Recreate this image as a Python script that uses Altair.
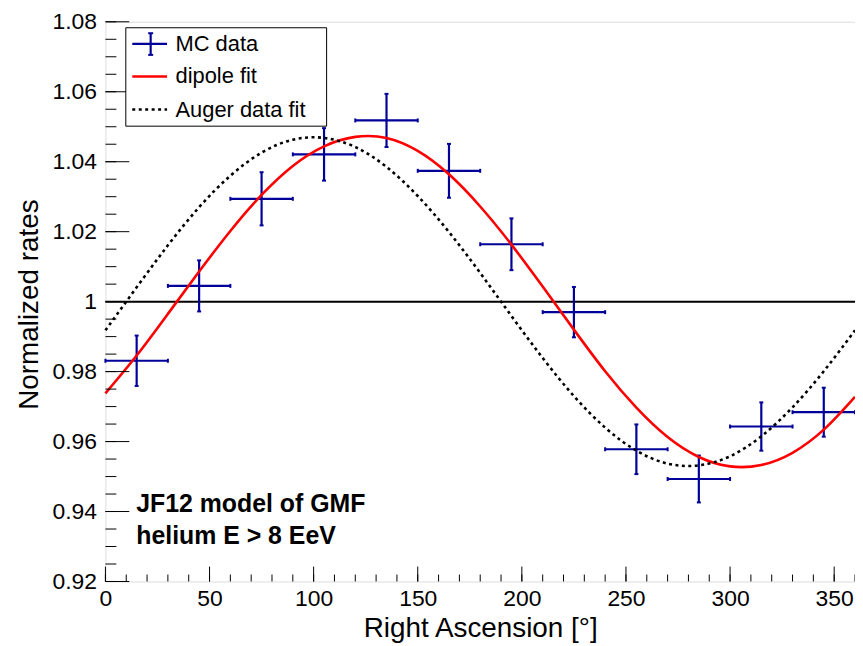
import altair as alt
import pandas as pd

# ---------------- data ----------------
ra_bins = [15, 45, 75, 105, 135, 165, 195, 225, 255, 285, 315, 345]
ra_half_width = [15, 15, 15, 15, 15, 15, 15, 15, 15, 15, 15, 15]
mc_rate = [0.9831, 1.0045, 1.0294, 1.0421, 1.0518, 1.0374,
           1.0164, 0.9970, 0.9578, 0.9493, 0.9643, 0.9684]
mc_err = [0.0072, 0.0073, 0.0076, 0.0075, 0.0076, 0.0077,
          0.0074, 0.0072, 0.0071, 0.0067, 0.0069, 0.0070]

curve_ra = [0, 15, 30, 45, 60, 75, 90, 105, 120, 135, 150, 165, 180,
            195, 210, 225, 240, 255, 270, 285, 300, 315, 330, 345, 360]
dipole_fit = [0.9738, 0.9846, 0.9965, 1.0086, 1.0202, 1.0305, 1.0388, 1.0444,
              1.0471, 1.0468, 1.0431, 1.0364, 1.0272, 1.0163, 1.0043, 0.9920,
              0.9801, 0.9697, 0.9613, 0.9556, 0.9529, 0.9533, 0.9568, 0.9634,
              0.9728]
auger_fit = [0.9918, 1.0041, 1.0161, 1.0270, 1.0360, 1.0426, 1.0463, 1.0468,
             1.0442, 1.0385, 1.0302, 1.0199, 1.0082, 0.9959, 0.9839, 0.9730,
             0.9640, 0.9574, 0.9537, 0.9532, 0.9558, 0.9615, 0.9698, 0.9801,
             0.9918]

reference_level = [1.0]

x_major = [0, 50, 100, 150, 200, 250, 300, 350]
x_minor = [0, 10, 20, 30, 40, 50, 60, 70, 80, 90, 100, 110, 120, 130, 140, 150,
           160, 170, 180, 190, 200, 210, 220, 230, 240, 250, 260, 270, 280,
           290, 300, 310, 320, 330, 340, 350, 360]
y_major = [0.92, 0.94, 0.96, 0.98, 1.00, 1.02, 1.04, 1.06, 1.08]
y_minor = [0.92, 0.925, 0.93, 0.935, 0.94, 0.945, 0.95, 0.955, 0.96, 0.965,
           0.97, 0.975, 0.98, 0.985, 0.99, 0.995, 1.0, 1.005, 1.01, 1.015,
           1.02, 1.025, 1.03, 1.035, 1.04, 1.045, 1.05, 1.055, 1.06, 1.065,
           1.07, 1.075, 1.08]

legend_labels = ["MC data", "dipole fit", "Auger data fit"]
annotation_lines = ["JF12 model of GMF", "helium E > 8 EeV"]
x_title = "Right Ascension [°]"
y_title = "Normalized rates"

# ---------------- styling ----------------
W, H = 754, 563
FONT = "Liberation Sans"
BLUE = "#000099"
RED = "#ff0000"

xs = alt.Scale(domain=[0, 360], nice=False, zero=False)
ys = alt.Scale(domain=[0.92, 1.08], nice=False, zero=False)

x_axis = alt.Axis(values=x_major, title=x_title, ticks=False, domain=False,
                  grid=False, labelFontSize=23, labelPadding=6, labelFlush=False,
                  labelOverlap=False, labelColor="black", labelFont=FONT,
                  titleFont=FONT, titleFontSize=28, titleFontWeight="normal",
                  titleColor="black", titleY=55, titleBaseline="alphabetic")
y_axis = alt.Axis(values=y_major, title=y_title, ticks=False, domain=False,
                  grid=False, labelFontSize=23, labelPadding=9, labelFlush=False,
                  labelOverlap=False, labelColor="black", labelFont=FONT,
                  labelExpr="format(datum.value, '.2~f')",
                  titleFont=FONT, titleFontSize=28, titleFontWeight="normal",
                  titleColor="black", titleX=-68, titleY=284, titleAngle=270,
                  titleBaseline="alphabetic")


def X(field):
    return alt.X(field, type="quantitative", scale=xs, axis=x_axis)


def Y(field):
    return alt.Y(field, type="quantitative", scale=ys, axis=y_axis)


df = pd.DataFrame({"ra": ra_bins, "hw": ra_half_width,
                   "rate": mc_rate, "err": mc_err})
df["lo"] = df["ra"] - df["hw"]
df["hi"] = df["ra"] + df["hw"]
df["ylo"] = df["rate"] - df["err"]
df["yhi"] = df["rate"] + df["err"]

dfc = pd.DataFrame({"ra": curve_ra, "dipole": dipole_fit, "auger": auger_fit})
one = pd.DataFrame({"k": [0]})

layers = []

# reference line at 1
layers.append(alt.Chart(pd.DataFrame({"level": reference_level}))
              .mark_rule(color="black", strokeWidth=2)
              .encode(y=Y("level")))

# MC data error crosses
layers.append(alt.Chart(df).mark_rule(color=BLUE, strokeWidth=2.2)
              .encode(x=X("lo"), x2="hi", y=Y("rate")))
layers.append(alt.Chart(df).mark_rule(color=BLUE, strokeWidth=2.2)
              .encode(x=X("ra"), y=Y("ylo"), y2="yhi"))
for f in ["ylo", "yhi"]:
    layers.append(alt.Chart(df).mark_tick(orient="horizontal", size=4,
                                          thickness=2, color=BLUE, opacity=1)
                  .encode(x=X("ra"), y=Y(f)))
for f in ["lo", "hi"]:
    layers.append(alt.Chart(df).mark_tick(orient="vertical", size=4,
                                          thickness=2, color=BLUE, opacity=1)
                  .encode(x=X(f), y=Y("rate")))

# fits
layers.append(alt.Chart(dfc).mark_line(color=RED, strokeWidth=2.6,
                                       interpolate="natural")
              .encode(x=X("ra"), y=Y("dipole")))
layers.append(alt.Chart(dfc).mark_line(color="black", strokeWidth=2.6,
                                       strokeDash=[3, 3.5],
                                       interpolate="natural")
              .encode(x=X("ra"), y=Y("auger")))

# inward ticks (ROOT style)
layers.append(alt.Chart(pd.DataFrame({"v": x_minor}))
              .mark_rule(color="black", strokeWidth=1)
              .encode(x=X("v"), y=alt.value(H), y2=alt.value(H - 7)))
layers.append(alt.Chart(pd.DataFrame({"v": x_major}))
              .mark_rule(color="black", strokeWidth=1)
              .encode(x=X("v"), y=alt.value(H), y2=alt.value(H - 15)))
layers.append(alt.Chart(pd.DataFrame({"v": y_minor}))
              .mark_rule(color="black", strokeWidth=1)
              .encode(y=Y("v"), x=alt.value(0), x2=alt.value(11)))
layers.append(alt.Chart(pd.DataFrame({"v": y_major}))
              .mark_rule(color="black", strokeWidth=1)
              .encode(y=Y("v"), x=alt.value(0), x2=alt.value(24)))

# legend box
layers.append(alt.Chart(one).mark_rect(fill="white", stroke="black",
                                       strokeWidth=1)
              .encode(x=alt.value(20.5), x2=alt.value(222.5),
                      y=alt.value(6), y2=alt.value(105)))
# legend symbols
layers.append(alt.Chart(one).mark_rule(color=BLUE, strokeWidth=2.2)
              .encode(x=alt.value(27), x2=alt.value(62), y=alt.value(22.3)))
layers.append(alt.Chart(one).mark_rule(color=BLUE, strokeWidth=2.2)
              .encode(x=alt.value(45.5), y=alt.value(11.5), y2=alt.value(33.3)))
layers.append(alt.Chart(one).mark_rule(color=BLUE, strokeWidth=2)
              .encode(x=alt.value(43), x2=alt.value(48), y=alt.value(11.5)))
layers.append(alt.Chart(one).mark_rule(color=BLUE, strokeWidth=2)
              .encode(x=alt.value(43), x2=alt.value(48), y=alt.value(33.3)))
layers.append(alt.Chart(one).mark_rule(color=RED, strokeWidth=2.6)
              .encode(x=alt.value(27), x2=alt.value(62), y=alt.value(55)))
layers.append(alt.Chart(one).mark_rule(color="black", strokeWidth=2.6,
                                       strokeDash=[3, 3.5])
              .encode(x=alt.value(27), x2=alt.value(62), y=alt.value(88.3)))
for lbl, yy in zip(legend_labels, [22.3, 55, 88.3]):
    layers.append(alt.Chart(pd.DataFrame({"t": [lbl]}))
                  .mark_text(align="left", baseline="middle", fontSize=22,
                             font=FONT, color="black")
                  .encode(text="t:N", x=alt.value(70.5), y=alt.value(yy)))

# annotation
for line, yy in zip(annotation_lines, [493, 525]):
    layers.append(alt.Chart(pd.DataFrame({"t": [line]}))
                  .mark_text(align="left", baseline="alphabetic", fontSize=25,
                             fontWeight="bold", font=FONT, color="black")
                  .encode(text="t:N", x=alt.value(31), y=alt.value(yy)))

chart = (alt.layer(*layers)
         .properties(width=W, height=H,
                     autosize=alt.AutoSizeParams(type="none"),
                     padding={"left": 98, "top": 12, "right": 0, "bottom": 61})
         .configure_view(stroke="black", strokeWidth=1.2)
         .configure(font=FONT, background="white"))

chart.save("out.html", embed_options={"renderer": "svg", "actions": False})
